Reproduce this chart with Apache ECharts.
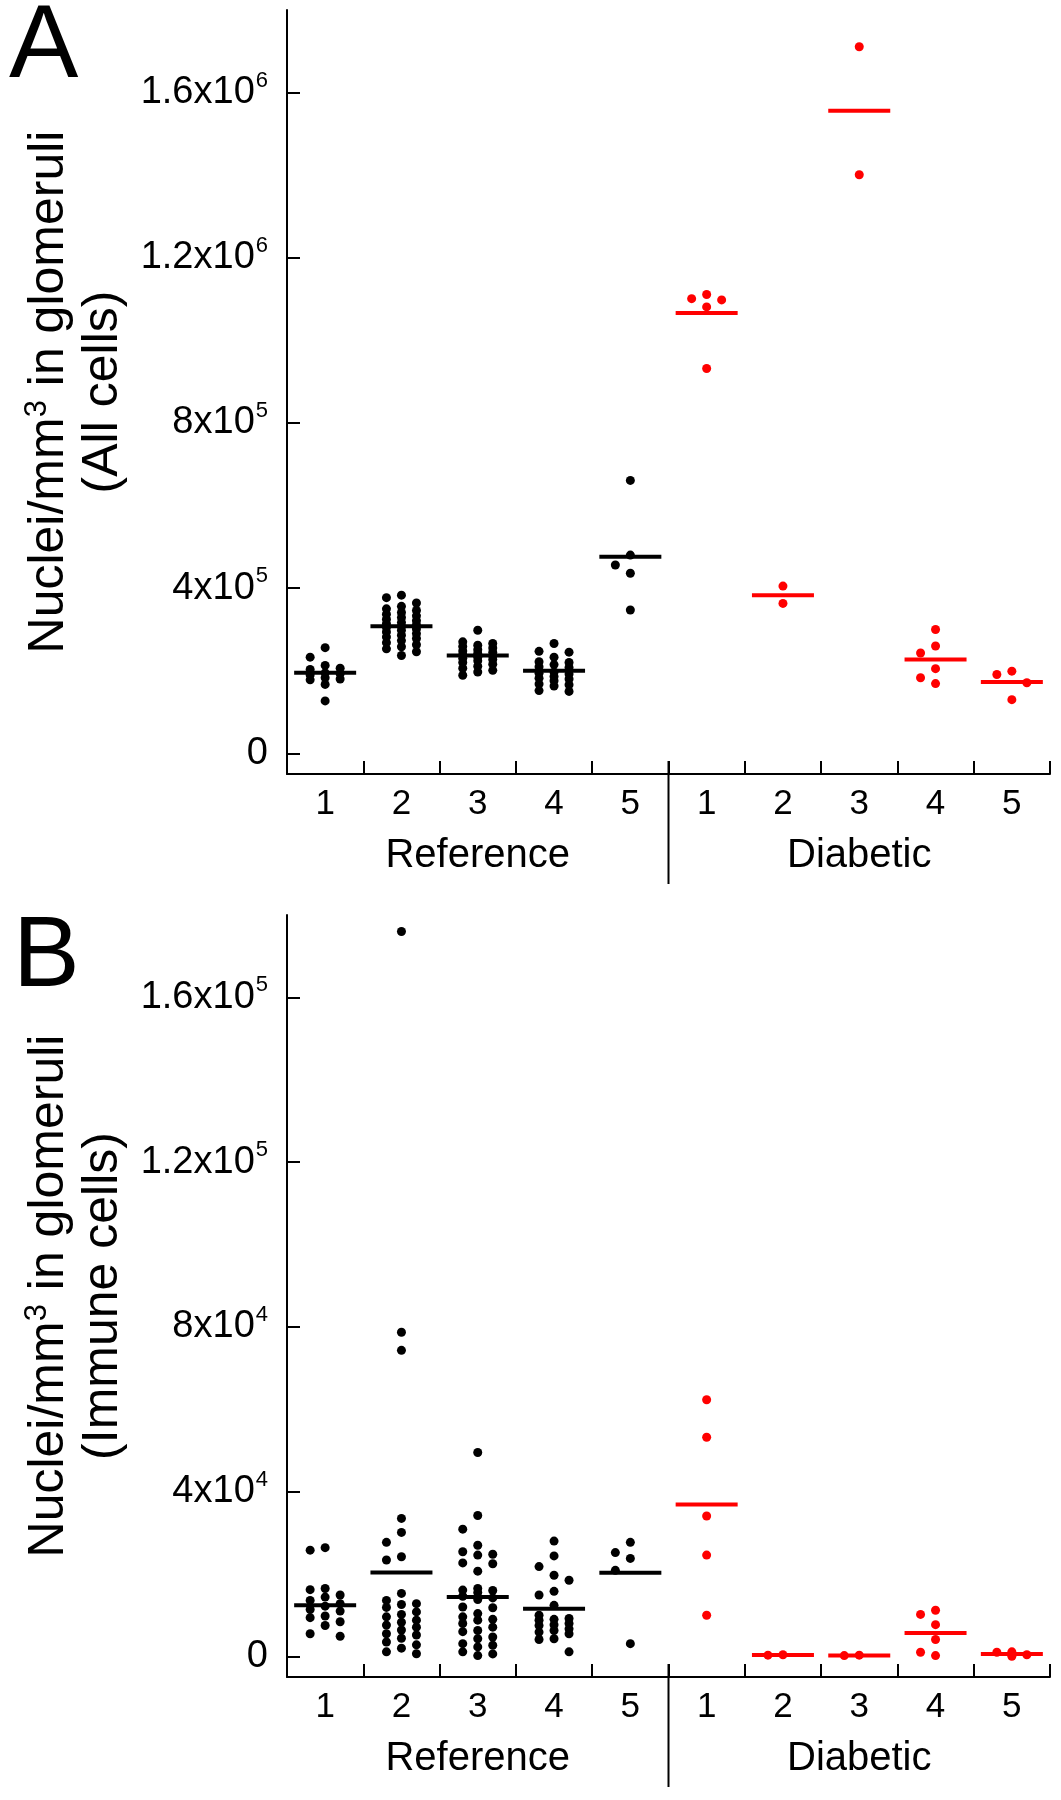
<!DOCTYPE html>
<html><head><meta charset="utf-8">
<script src="https://cdn.jsdelivr.net/npm/echarts@6/dist/echarts.min.js"></script>
<style>html,body{margin:0;padding:0;background:#fff}#c{width:1061px;height:1800px}</style>
</head><body><div id="c"></div>
<script>
// ---------- DATA ----------
const subjects = ['1', '2', '3', '4', '5'];
const cohorts = ['Reference', 'Diabetic'];

// Panel A: nuclei / mm^3 in glomeruli (all cells)
const allRef1 = [256000, 233000, 213000, 206000, 203000, 195000, 193000, 190000, 183000, 180000, 178000, 167000, 127000];
const allRef2 = [383000, 377000, 364000, 356000, 350000, 346000, 341000, 337000, 333000, 329000, 325000, 321000, 317000, 314000, 311000, 308000, 305000, 301000, 298000, 294000, 290000, 286000, 282000, 278000, 273000, 268000, 263000, 258000, 253000, 246000, 237000];
const allRef3 = [298000, 270000, 266000, 262000, 259000, 255000, 251000, 248000, 245000, 242000, 239000, 236000, 233000, 230000, 227000, 224000, 220000, 216000, 211000, 206000, 201000, 197000, 189000];
const allRef4 = [266000, 247000, 245000, 233000, 222000, 220000, 215000, 210000, 208000, 197000, 194000, 192000, 186000, 182000, 180000, 176000, 168000, 166000, 163000, 152000, 150000];
const allRef5 = [661000, 480000, 456000, 436000, 347000];
const allDia1 = [1111000, 1101000, 1098000, 1081000, 932000];
const allDia2 = [405000, 363000];
const allDia3 = [1711000, 1401000];
const allDia4 = [300000, 260000, 243000, 205000, 183000, 169000];
const allDia5 = [199000, 191000, 171000, 130000];
const allMeans = [195000, 308000, 237000, 200000, 476000, 1066000, 383000, 1556000, 227000, 173000];
const allTicks = [0, 400000, 800000, 1200000, 1600000];
const allTickLabels = [['0', ''], ['4x10', '5'], ['8x10', '5'], ['1.2x10', '6'], ['1.6x10', '6']];

// Panel B: nuclei / mm^3 in glomeruli (immune cells)
const immRef1 = [26400, 25800, 16500, 16200, 14900, 14400, 13600, 12800, 12200, 11400, 11000, 9800, 9400, 8400, 7500, 5500, 4900];
const immRef2 = [176000, 78700, 74300, 33500, 30100, 27700, 24200, 23400, 15300, 13600, 12800, 12600, 11900, 10800, 10200, 9600, 8800, 8300, 7600, 7100, 6400, 5500, 5200, 4400, 3500, 2800, 2000, 1100, 650];
const immRef3 = [49500, 34200, 30900, 27000, 25400, 24800, 24600, 22700, 22500, 20700, 16500, 16100, 16000, 15500, 14600, 14200, 13800, 12000, 11800, 10400, 9600, 9000, 8800, 8000, 7100, 6300, 6000, 4700, 4300, 3100, 2700, 2300, 1100, 600, 200];
const immRef4 = [28000, 24400, 21800, 19700, 18500, 15800, 14900, 12400, 10000, 9200, 9000, 8800, 8000, 7700, 7500, 6700, 6300, 5900, 5500, 4300, 4100, 1100];
const immRef5 = [27700, 25200, 23800, 20900, 3100];
const immDia1 = [62300, 53200, 34100, 24600, 10000];
const immDia2 = [400, 300];
const immDia3 = [300, 200];
const immDia4 = [11200, 10200, 7700, 4100, 1000, 200];
const immDia5 = [1100, 1000, 400, 50];
const immMeans = [12400, 20400, 14400, 11600, 20300, 36900, 350, 250, 5700, 600];
const immTicks = [0, 40000, 80000, 120000, 160000];
const immTickLabels = [['0', ''], ['4x10', '4'], ['8x10', '4'], ['1.2x10', '5'], ['1.6x10', '5']];

const allGroups = [allRef1, allRef2, allRef3, allRef4, allRef5, allDia1, allDia2, allDia3, allDia4, allDia5];
const immGroups = [immRef1, immRef2, immRef3, immRef4, immRef5, immDia1, immDia2, immDia3, immDia4, immDia5];

// ---------- LAYOUT / STYLE ----------
const FONT = '"Liberation Sans", Arial, Helvetica, sans-serif';
const BLACK = '#000000', RED = '#ff0000';
const GA = { left: 287, top: 10, width: 763, height: 764 };
const GB = { left: 287, top: 915, width: 763, height: 762 };
const A_MIN = -50000, A_MAX = 1800000;
const B_MIN = -5000, B_MAX = 180000;
const DOT = 9;
const COL_PX = 15;     // horizontal step between swarm columns
const GAP_PX = 14;     // preferred vertical clearance inside a column

const categories = [];
cohorts.forEach(c => subjects.forEach(s => categories.push(c + ' ' + s)));

function swarmOffsets(values, pxPerUnit) {
  const order = values.map((v, i) => i).sort((a, b) => values[b] - values[a]);
  const cols = [0, -1, 1];
  const last = {};
  const off = new Array(values.length).fill(0);
  order.forEach(i => {
    const v = values[i];
    let chosen = null, best = -1, bestC = 0;
    for (const c of cols) {
      const d = last[c] === undefined ? Infinity : (last[c] - v) * pxPerUnit;
      if (d >= GAP_PX) { chosen = c; break; }
      if (d > best) { best = d; bestC = c; }
    }
    if (chosen === null) chosen = bestC;
    last[chosen] = v;
    off[i] = chosen;
  });
  return off;
}

function buildSeries(groups, means, grid, ymin, ymax, xIdx, yIdx) {
  const pxPerUnit = grid.height / (ymax - ymin);
  const step = COL_PX / (grid.width / categories.length);
  const black = [], red = [];
  groups.forEach((vals, g) => {
    const off = swarmOffsets(vals, pxPerUnit);
    vals.forEach((v, i) => {
      (g < subjects.length ? black : red).push([g + 1 + off[i] * step, v]);
    });
  });
  const meanBlack = [], meanRed = [];
  means.forEach((m, g) => (g < subjects.length ? meanBlack : meanRed).push([g + 1, m]));
  const dot = (data, color) => ({
    type: 'scatter', xAxisIndex: xIdx, yAxisIndex: yIdx, data: data,
    symbol: 'circle', symbolSize: DOT, itemStyle: { color: color, opacity: 1 }, silent: true, z: 3
  });
  const bar = (data, color) => ({
    type: 'scatter', xAxisIndex: xIdx, yAxisIndex: yIdx, data: data,
    symbol: 'rect', symbolSize: [62, 4], itemStyle: { color: color, opacity: 1 }, silent: true, z: 4
  });
  return [dot(black, BLACK), dot(red, RED), bar(meanBlack, BLACK), bar(meanRed, RED)];
}

function catAxis(gridIndex) {
  return {
    type: 'category', gridIndex: gridIndex, position: 'bottom', data: categories,
    axisLine: { onZero: false, lineStyle: { color: BLACK, width: 2 } },
    axisTick: { show: true, inside: true, length: 13, lineStyle: { color: BLACK, width: 2 } },
    axisLabel: { color: BLACK, fontFamily: FONT, fontSize: 35, margin: 13, interval: 0,
      formatter: v => v.split(' ')[1] },
    splitLine: { show: false }
  };
}
function valAxisX(gridIndex) {
  return { type: 'value', gridIndex: gridIndex, position: 'bottom', min: 0.5, max: 10.5, show: false };
}
function cohortAxis(gridIndex) {
  return {
    type: 'category', gridIndex: gridIndex, position: 'bottom', data: cohorts,
    axisLine: { show: false, onZero: false }, axisTick: { show: false },
    axisLabel: { color: BLACK, fontFamily: FONT, fontSize: 40, margin: 62, interval: 0 },
    splitLine: { show: false }
  };
}
function yAxis(gridIndex, min, max, ticks, labels, title) {
  return {
    type: 'value', gridIndex: gridIndex, min: min, max: max,
    axisLine: { show: true, onZero: false, lineStyle: { color: BLACK, width: 2 } },
    axisTick: { show: true, inside: true, length: 13, customValues: ticks, lineStyle: { color: BLACK, width: 2 } },
    axisLabel: {
      customValues: ticks, margin: 19, color: BLACK, fontFamily: FONT,
      formatter: v => {
        const k = ticks.indexOf(v);
        const l = labels[k >= 0 ? k : 0];
        return l[1] ? '{m|' + l[0] + '}{e|' + l[1] + '}' : '{m|' + l[0] + '}';
      },
      rich: {
        m: { fontSize: 38, lineHeight: 46, fontFamily: FONT, color: BLACK },
        e: { fontSize: 22, lineHeight: 22, padding: [0, 0, 24, 1], fontFamily: FONT, color: BLACK }
      }
    },
    splitLine: { show: false },
    name: '{t|Nuclei/mm}{s|3}{t| in glomeruli}\n{t|' + title + '}',
    nameLocation: 'middle', nameRotate: 90, nameGap: 141,
    nameTextStyle: {
      color: BLACK, fontFamily: FONT, fontSize: 50, lineHeight: 54, align: 'center',
      rich: {
        t: { fontSize: 50, lineHeight: 54, fontFamily: FONT, color: BLACK },
        s: { fontSize: 31, lineHeight: 24, verticalAlign: 'top', fontFamily: FONT, color: BLACK }
      }
    }
  };
}

const chart = echarts.init(document.getElementById('c'), null, { renderer: 'canvas' });
chart.setOption({
  animation: false,
  backgroundColor: '#ffffff',
  grid: [
    Object.assign({ containLabel: false }, GA),
    Object.assign({ containLabel: false }, GB)
  ],
  xAxis: [catAxis(0), valAxisX(0), cohortAxis(0), catAxis(1), valAxisX(1), cohortAxis(1)],
  yAxis: [
    yAxis(0, A_MIN, A_MAX, allTicks, allTickLabels, '(All cells)'),
    yAxis(1, B_MIN, B_MAX, immTicks, immTickLabels, '(Immune cells)')
  ],
  series: [].concat(
    buildSeries(allGroups, allMeans, GA, A_MIN, A_MAX, 1, 0),
    buildSeries(immGroups, immMeans, GB, B_MIN, B_MAX, 4, 1)
  )
});

// divider between cohorts and panel letters, placed through the axes' own scales
const xDivA = chart.convertToPixel({ xAxisIndex: 1 }, subjects.length + 0.5);
const xDivB = chart.convertToPixel({ xAxisIndex: 4 }, subjects.length + 0.5);
const yAxA = chart.convertToPixel({ yAxisIndex: 0 }, A_MIN);
const yAxB = chart.convertToPixel({ yAxisIndex: 1 }, B_MIN);
const yTopA = chart.convertToPixel({ yAxisIndex: 0 }, A_MAX);
const yTopB = chart.convertToPixel({ yAxisIndex: 1 }, B_MAX);
chart.setOption({
  graphic: [
    { type: 'line', shape: { x1: xDivA, y1: yAxA - 13, x2: xDivA, y2: yAxA + 110 }, style: { stroke: BLACK, lineWidth: 2 }, z: 10 },
    { type: 'line', shape: { x1: xDivB, y1: yAxB - 13, x2: xDivB, y2: yAxB + 110 }, style: { stroke: BLACK, lineWidth: 2 }, z: 10 },
    { type: 'text', x: 9, y: yTopA + 38, style: { text: 'A', font: '104px ' + FONT, fill: BLACK, textAlign: 'left', textVerticalAlign: 'middle' }, z: 10 },
    { type: 'text', x: 13, y: yTopB + 43, style: { text: 'B', font: '100px ' + FONT, fill: BLACK, textAlign: 'left', textVerticalAlign: 'middle' }, z: 10 }
  ]
});
</script>
</body></html>
